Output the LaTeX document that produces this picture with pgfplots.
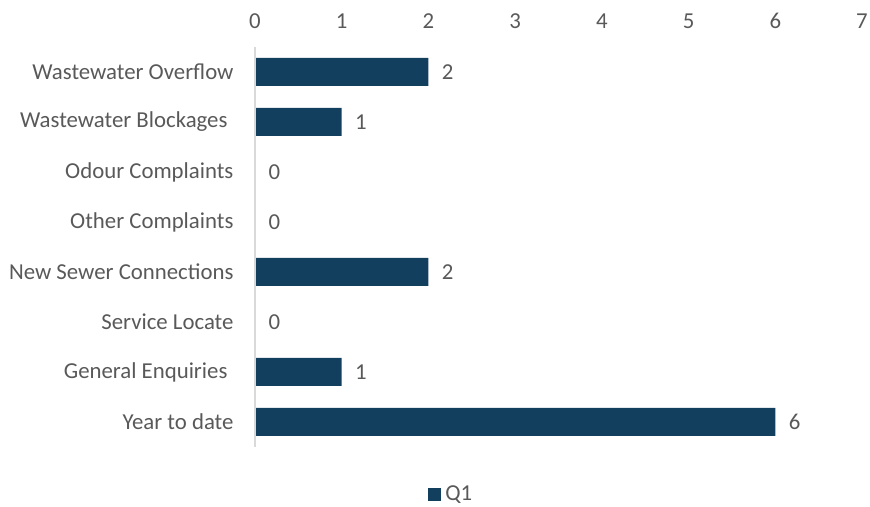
\documentclass[border=0pt]{standalone}
\usepackage{pgfplots}
\pgfplotsset{compat=1.18}
\usepackage{fontspec}
\setmainfont{Carlito}
\definecolor{barblue}{RGB}{19,63,95}
\definecolor{txtgray}{RGB}{89,89,89}
\definecolor{axgray}{RGB}{217,217,217}
\newcommand{\cf}{\fontsize{22.8}{25}\selectfont}
\begin{document}
\begin{tikzpicture}[x=1pt,y=1pt]
\useasboundingbox (0,0) rectangle (870,506);
\begin{axis}[
  at={(255pt,59pt)}, anchor=south west,
  scale only axis, width=607pt, height=400pt,
  xbar, bar width=28pt,
  xmin=0, xmax=7, ymin=-0.5, ymax=7.5,
  xtick={0,1,2,3,4,5,6,7},
  ytick={0,1,2,3,4,5,6,7},
  yticklabels={Year to date,{General Enquiries\rule{6pt}{0pt}},Service Locate,New Sewer Connections,Other Complaints,Odour Complaints,{Wastewater Blockages\rule{6pt}{0pt}},Wastewater Overflow},
  xticklabel pos=upper,
  axis line style={draw=none},
  extra description/.code={\draw[axgray,line width=1.2pt] (axis cs:0,-0.5) -- (axis cs:0,7.5);},
  major tick length=0pt,
  tick label style={font=\cf, text=txtgray},
  /pgf/number format/assume math mode=true,
  xticklabel style={yshift=15pt},
  yticklabel style={xshift=-18pt},
  nodes near coords,
  nodes near coords style={font=\cf, text=txtgray, anchor=west, xshift=10pt},
  legend style={at={(0.325,-0.1175)}, anchor=center, draw=none, font=\cf, text=txtgray},
  legend image code/.code={\fill[barblue] (0pt,-7pt) rectangle (13pt,6pt);},
  legend cell align=left,
  legend style={nodes={inner xsep=4pt}},
]
\addplot[fill=barblue, draw=none] coordinates {(6,0) (1,1) (0,2) (2,3) (0,4) (0,5) (1,6) (2,7)};
\addlegendentry{Q1}
\end{axis}
\end{tikzpicture}
\end{document}
